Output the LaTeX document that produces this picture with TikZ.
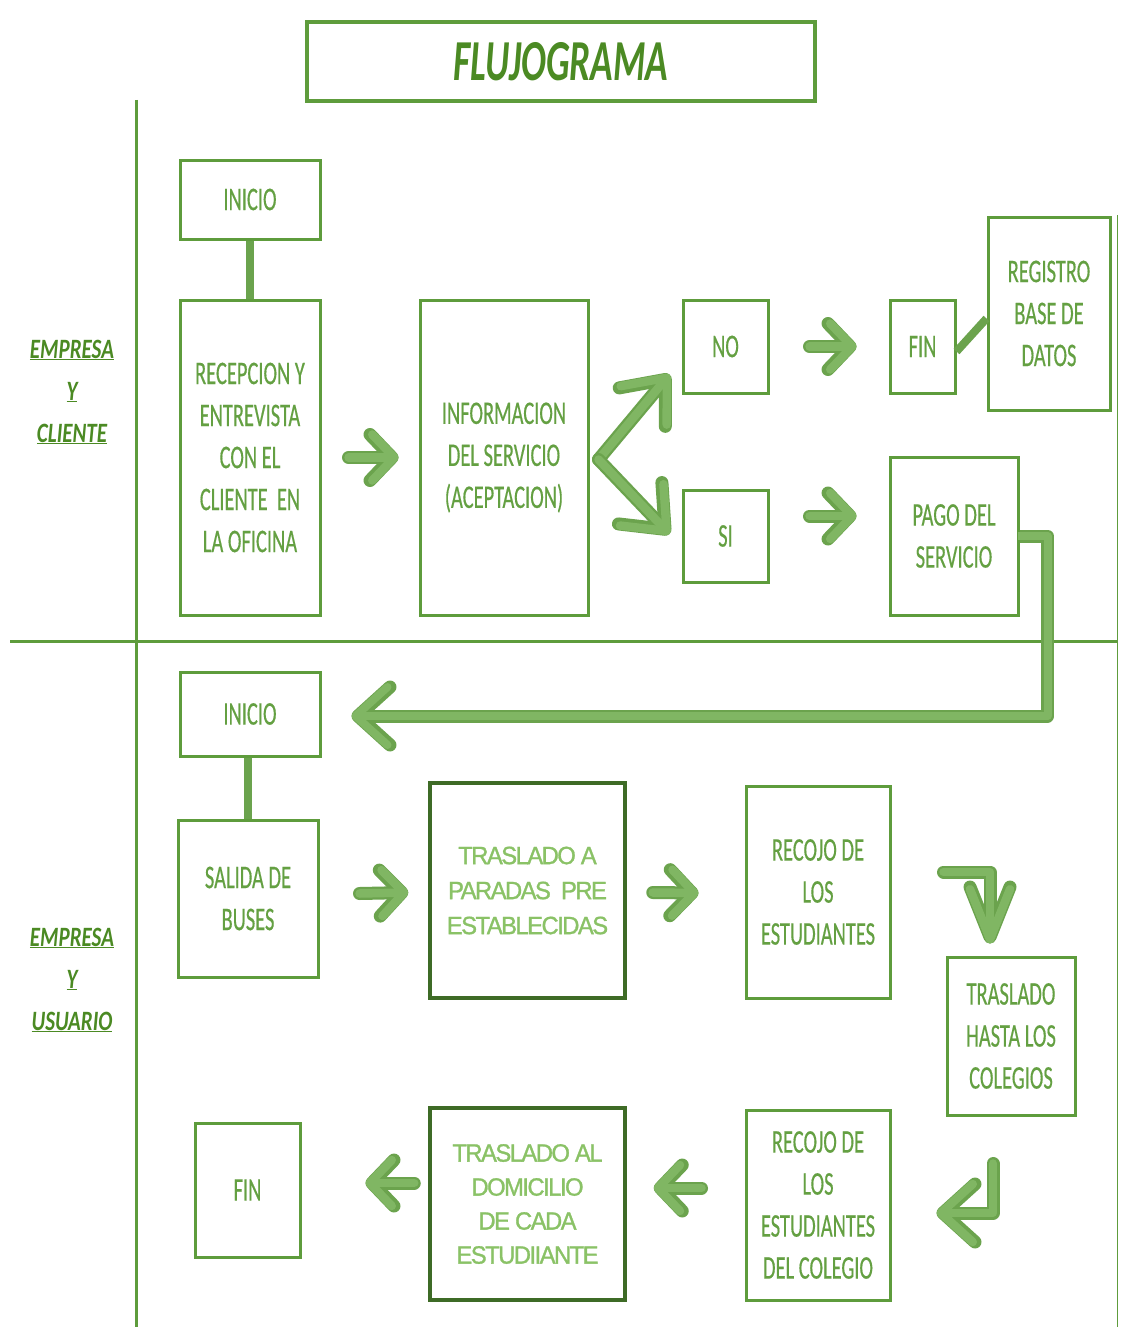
\documentclass[tikz,border=0pt]{standalone}
\usepackage{fontspec}
\usetikzlibrary{arrows.meta,calc}
\newfontfamily\boxfont{Carlito}[FakeStretch=0.62,FakeBold=0.4]
\newfontfamily\lblfont{Carlito}[FakeStretch=0.75]
\newfontfamily\ttlfont{Carlito}[FakeStretch=0.64]
\newfontfamily\arfont{Liberation Sans}[FakeStretch=0.95,LetterSpace=-6,FakeBold=1.2]
\definecolor{boxgreen}{HTML}{5E9C3C}
\definecolor{txtgreen}{HTML}{64A042}
\definecolor{darkbox}{HTML}{3E6B26}
\definecolor{ttlgreen}{HTML}{4B8A23}
\definecolor{ardark}{HTML}{6BA34D}
\definecolor{arlight}{HTML}{80B663}
\definecolor{lighttxt}{HTML}{8AC266}
\tikzset{
  box/.style={draw=boxgreen, line width=3pt, inner sep=0pt, align=center, text=txtgreen,
    font=\boxfont\fontsize{33}{42}\selectfont},
  dbox/.style={draw=darkbox, line width=3.5pt, inner sep=0pt, align=center, text=lighttxt,
    font=\arfont\fontsize{25}{35}\selectfont},
  lbl/.style={align=center, text=ttlgreen, font=\lblfont\bfseries\itshape\fontsize{28}{42}\selectfont},
  link/.style={draw=ardark, line width=8pt},
  aro/.style={draw=ardark, line width=13pt, line cap=round, line join=round},
  ari/.style={draw=arlight, line width=8.5pt, line cap=round, line join=round},
  tipA/.style={-{Straight Barb[length=22pt,width=46pt,round]}},
  tipB/.style={-{Straight Barb[length=36pt,width=60pt,round]}},
  tipC/.style={-{Straight Barb[length=50pt,width=40pt,round]}},
  tipD/.style={-{Straight Barb[length=32pt,width=58pt,round]}},
}
\newcommand{\garrow}[2]{\draw[aro,#1] #2; \draw[ari,#1] #2;}
\begin{document}
\begin{tikzpicture}[x=1pt,y=-1pt]
\useasboundingbox (0,0) rectangle (1120,1327);
\fill[white] (0,0) rectangle (1120,1327);
% lanes
\draw[boxgreen, line width=3pt] (136,100) -- (136,1327);
\draw[boxgreen, line width=3pt] (10,641) -- (1117,641);
\draw[boxgreen, line width=1pt] (1117,215) -- (1117,1327);
% title
\node[draw=boxgreen, line width=3.5pt, minimum width=508pt, minimum height=79pt, text=ttlgreen,
  font=\ttlfont\bfseries\itshape\fontsize{58}{60}\selectfont] (title) at (561,61.5) {FLUJOGRAMA};
% lane labels
\node[lbl] (lane1) at (72,392) {\underline{EMPRESA}\\\underline{Y}\\\underline{CLIENTE}};
\node[lbl] (lane2) at (72,980) {\underline{EMPRESA}\\\underline{Y}\\\underline{USUARIO}};
% top lane boxes
\node[box, minimum width=140pt, minimum height=79pt] (ini1) at (250,199.5) {INICIO};
\node[box, minimum width=140pt, minimum height=315pt] (recep) at (250,457.5)
  {RECEPCION Y\\ENTREVISTA\\CON EL\\CLIENTE\ \ EN\\LA OFICINA};
\node[box, minimum width=168pt, minimum height=315pt] (info) at (504,457.5)
  {INFORMACION\\DEL SERVICIO\\(ACEPTACION)};
\node[box, minimum width=85pt, minimum height=93pt] (no) at (725.5,346.5) {NO};
\node[box, minimum width=85pt, minimum height=92pt] (si) at (725.5,536) {SI};
\node[box, minimum width=65pt, minimum height=93pt] (fin1) at (922.5,346.5) {FIN};
\node[box, minimum width=122pt, minimum height=193pt] (reg) at (1049,313.5) {REGISTRO\\BASE DE\\DATOS};
\node[box, minimum width=128pt, minimum height=158pt] (pago) at (954,536) {PAGO DEL\\SERVICIO};
% bottom lane boxes
\node[box, minimum width=140pt, minimum height=84pt] (ini2) at (250,714) {INICIO};
\node[box, minimum width=140pt, minimum height=157pt] (sal) at (248,898.5) {SALIDA DE\\BUSES};
\node[dbox, minimum width=195pt, minimum height=215pt] (tr1) at (527.5,890.5)
  {TRASLADO A\\PARADAS\ \ PRE\\ESTABLECIDAS};
\node[box, minimum width=144pt, minimum height=212pt] (rec1) at (818,892)
  {RECOJO DE\\LOS\\ESTUDIANTES};
\node[box, minimum width=128pt, minimum height=158pt] (tr2) at (1011,1036)
  {TRASLADO\\HASTA LOS\\COLEGIOS};
\node[box, minimum width=144pt, minimum height=190pt] (rec2) at (818,1205)
  {RECOJO DE\\LOS\\ESTUDIANTES\\DEL COLEGIO};
\node[dbox, minimum width=195pt, minimum height=192pt, font=\arfont\fontsize{25}{34}\selectfont] (tr3) at (527.5,1204)
  {TRASLADO AL\\DOMICILIO\\DE CADA\\ESTUDIIANTE};
\node[box, minimum width=105pt, minimum height=134pt] (fin2) at (247.5,1190) {FIN};
% plain links
\draw[link] (ini1.south) -- (recep.north);
\draw[link] ($(fin1.east)+(0,5)$) -- ($(reg.west)+(0,5)$);
\draw[link] (sal.north) -- (sal.north |- ini2.south);
% arrows top
\garrow{tipA}{($(recep.east)+(27,0)$) -- ($(info.west)+(-20,0)$)}
\garrow{tipB}{($(info.east)+(9,2)$) -- ($(no.south west)+(-12,-20)$)}
\garrow{tipB}{($(info.east)+(9,2)$) -- ($(si.west)+(-12,-2)$)}
\garrow{tipA}{($(no.east)+(40,0)$) -- ($(fin1.west)+(-32,0)$)}
\garrow{tipA}{($(si.east)+(40,-20)$) -- ($(pago.west)+(-32,-20)$)}
% big return connector
\draw[draw=ardark, line width=13pt, line join=round, tipD] (pago.east) -- ++(28,0) |- ($(ini2.east)+(30,2)$);
\draw[draw=arlight, line width=8pt, line join=round, tipD] ($(pago.east)+(-2,0)$) -- ++(30,0) |- ($(ini2.east)+(30,2)$);
% arrows bottom
\garrow{tipA}{($(sal.east)+(40,-5)$) -- ($(tr1.west)+(-20,2)$)}
\garrow{tipA}{($(tr1.east)+(26,2)$) -- ($(rec1.west)+(-46,1)$)}
\garrow{tipC}{($(rec1.east)+(52,-20)$) -| ($(tr2.north)+(-21,-12)$)}
\garrow{tipD}{($(tr2.south)+(-18,47)$) |- ($(rec2.east)+(45,8)$)}
\garrow{tipA}{($(rec2.west)+(-43,-17)$) -- ($(tr3.east)+(27,-16)$)}
\garrow{tipA}{($(tr3.west)+(-14,-21)$) -- ($(fin2.east)+(64,-7)$)}
\end{tikzpicture}
\end{document}
